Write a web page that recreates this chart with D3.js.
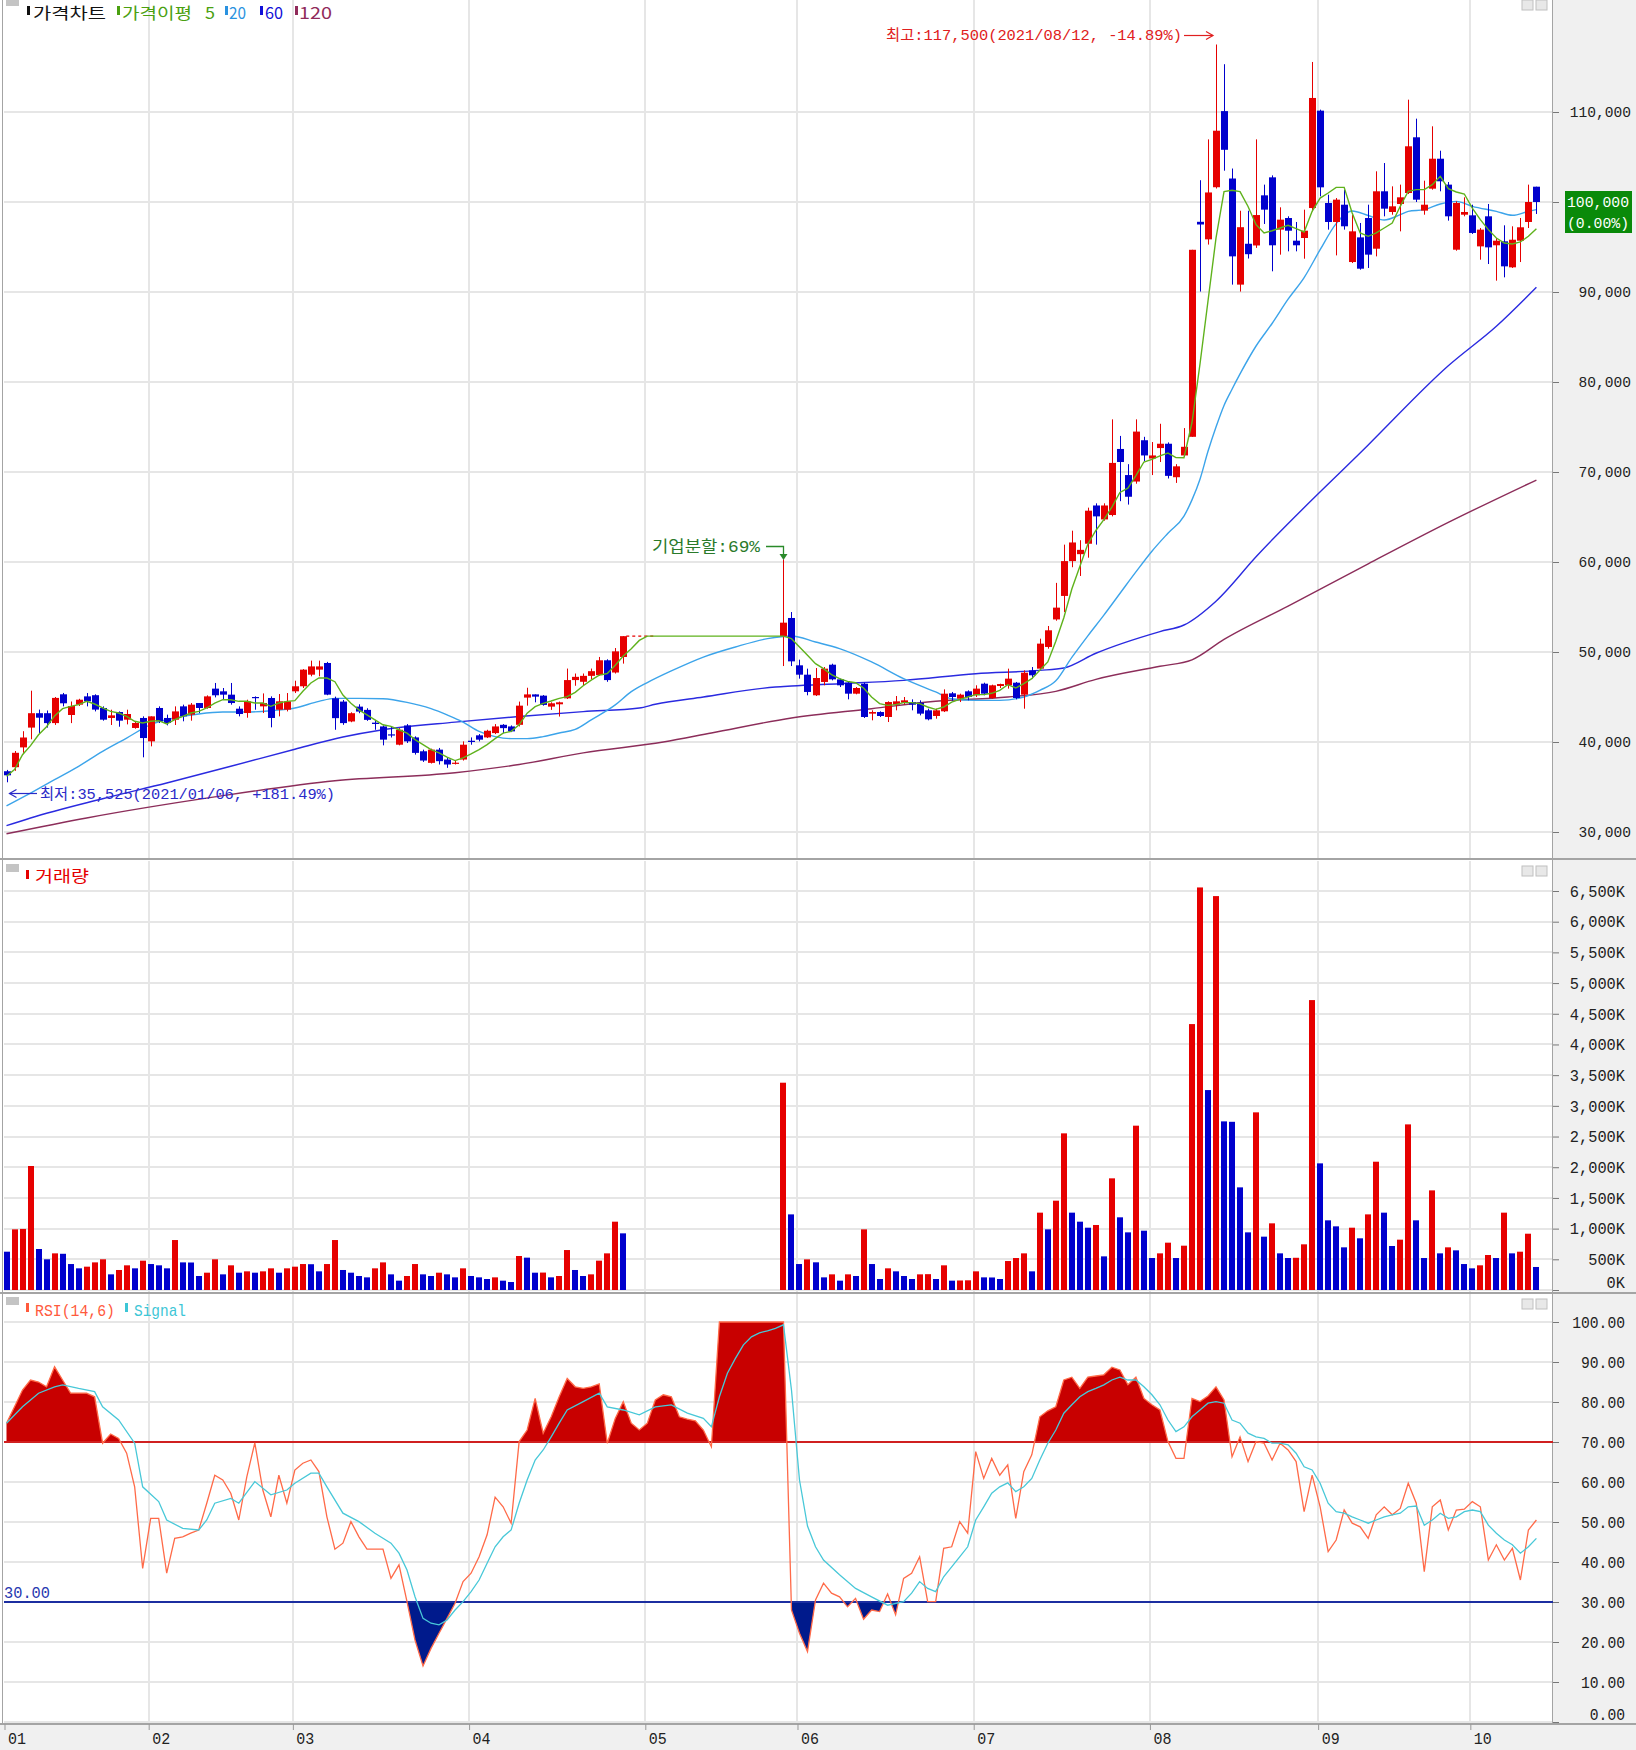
<!DOCTYPE html>
<html>
<head>
<meta charset="utf-8">
<script src="https://cdn.jsdelivr.net/npm/d3@7/dist/d3.min.js"></script>
<style>html,body{margin:0;padding:0;background:#fff;}svg{display:block;}</style>
</head>
<body>
<svg id="chart" width="1636" height="1750"></svg>
<script>
// ================= DATA =================
const monthLabels = ["01","02","03","04","05","06","07","08","09","10"];
const monthStartSlots = [0,18,36,58,80,99,121,143,164,183];
const priceTicks = [30000,40000,50000,60000,70000,80000,90000,100000,110000];
const volumeTicks = [0,500,1000,1500,2000,2500,3000,3500,4000,4500,5000,5500,6000,6500];
const rsiTicks = [0,10,20,30,40,50,60,70,80,90,100];
const HALT = [null,null,null,null,null,null,null,null,null,null,null,null,null,null,null,null,null,null,null];

const openPre = [36750,37200,39400,41600,43200,43200,42100,45300,43000,44150,
45070,45200,43780,42670,43330,42480,41560,42670,40070,43780,
42670,42480,43960,43040,44330,43780,45930,45630,45260,43700,
43220,45000,43960,44890,43590,43590,45630,46190,47480,48040,
48780,44850,44490,42280,43930,43570,42150,41730,40850,39700,
41840,40510,38970,37680,39150,38050,37600,38050,40140,40740,
40510,40990,41910,41730,41910,44930,45290,45150,43930,44190,
44850,46880,46690,47350,47430,49080,47720,49450];
const openPost = [51780,53780,48520,47480,45190,46670,48590,46960,46590,45370,
46480,43150,43330,42780,44150,44370,44440,44370,43520,42890,
43410,45410,44810,45630,45190,46480,44890,46220,46300,46590,
45260,47960,48150,50560,53620,56230,60100,60870,62030,66280,
64730,65220,72560,69660,68940,73530,71500,72660,73140,69420,
71840,73910,97800,95850,101640,110100,102610,90820,95360,95170,
100740,102740,96930,98220,95700,96000,99330,110150,99890,97780,
99700,93330,96070,98220,94810,101190,98890,99780,101000,107190,
99040,101480,104810,101930,94700,98590,98520,95070,98410,95190,
95630,92740,95700,97780,101700];

const highPre = [36900,39000,41200,45700,43600,43500,45000,45450,44500,44800,
45440,45300,43960,43590,43400,43590,42300,42850,42850,43960,
43040,43960,44150,44330,44330,45180,46560,46000,46560,43960,
44700,45070,45400,45070,45330,45440,46810,48100,49040,49040,
48900,45040,44670,43300,44190,43750,42460,41840,41730,41540,
41990,40630,39150,39260,39340,38310,37940,40070,40510,40880,
41360,41990,41990,41840,44490,46030,45290,45220,44410,44490,
48160,47610,47610,48160,49450,49190,50440,51760];
const highPost = [60300,54440,49150,48150,48220,48330,48700,47040,46740,46110,
46590,43520,43410,44520,45110,45000,44740,44630,43700,43700,
45850,45560,45370,45740,46300,46590,46370,46480,48150,46670,
47960,48330,51480,52890,57680,61930,63480,62420,66040,66520,
66520,75850,74010,70870,75850,73910,73330,75360,73290,70870,
74880,94690,102420,106960,117500,115310,103720,99030,99030,106960,
101930,102960,99410,98410,97780,99150,115560,110260,100810,100440,
101370,98590,97670,99700,103410,104330,101740,101930,111370,109260,
102370,108410,105700,102220,100070,100520,99700,97110,99780,96000,
97410,97300,98220,101930,101700];

const lowPre = [35525,36800,38800,40300,41000,41600,41900,43960,42100,44000,
43960,43400,42370,41890,41700,41960,41480,38300,39520,42110,
41850,41890,42300,42370,43220,43700,44960,44700,44150,42850,
42700,43590,43220,41630,42850,43400,45440,46000,47300,47300,
45200,41360,41910,42200,43200,42350,41360,39630,40500,39630,
39890,38600,37790,37610,37500,37130,37500,37940,39700,40070,
40440,40880,40990,41100,41730,44040,44410,44040,43570,42830,
44780,46250,46320,46990,47350,46690,47610,48710];
const lowPost = [48440,48440,47040,45190,45110,46300,46850,46110,44740,45300,
42670,42410,42780,42220,43520,44150,43520,42960,42410,42590,
43330,44590,44440,44630,45000,45190,44810,46000,45930,44740,
43700,47040,48070,50370,53480,54440,59420,58450,60480,61930,
64590,65070,66760,66380,68700,71210,69660,71110,69280,68790,
71690,73910,90050,95270,101500,103480,90820,90050,93720,94900,
97560,92300,94150,94520,94520,93700,98960,100630,96930,94070,
96930,93220,92480,92670,93960,98410,98590,96740,100890,100000,
98590,101370,101190,97930,94590,98410,96450,93590,93110,91260,
91630,92670,93330,97110,98670];

const closePre = [36300,38800,40500,43200,42700,42100,44900,44300,44000,44700,
44520,43600,42480,42960,42370,43110,42110,40440,42850,42300,
42110,43400,42850,44150,43780,45070,45190,45260,44330,43110,
44520,44950,44330,42670,44520,44520,46190,48040,48400,48400,
45260,42650,42100,43200,43380,42460,42000,40260,40800,41360,
40070,38790,37940,39150,37870,37500,37700,39700,40000,40260,
41250,41730,41540,41180,44040,45290,45040,44120,44300,44410,
46880,47240,47350,47870,49080,46880,50070,51760];
const closePost = [53260,48960,47480,45560,47110,48150,46960,46300,45370,46000,
42780,43330,42890,44440,44520,44630,44150,43150,42520,43520,
45370,45000,45260,45000,45930,45370,46300,46440,47040,44890,
47700,47410,50930,52410,54930,60100,62170,61350,65700,65070,
66280,71010,71110,67250,74490,71840,71840,73140,69570,70630,
72800,94690,97500,101060,107920,105800,93960,97200,94200,98550,
99150,95190,98040,96810,95190,96810,111560,101630,97780,100260,
97300,96740,92590,94150,101190,99260,99520,100520,106190,100260,
99700,104810,102300,98410,99890,98890,96560,96930,94960,95700,
92850,95810,97190,100000,100000];

// volume in thousands of shares
const volumePre = [624,988,995,2020,668,500,597,590,423,353,
380,450,500,255,326,402,353,478,423,402,
353,814,450,448,228,282,500,255,402,282,
304,282,304,353,282,353,380,423,420,304,
423,814,326,282,228,206,353,450,255,152,
228,423,255,228,282,255,206,353,228,206,
179,206,152,130,554,527,282,284,206,228,
651,326,228,255,478,597,1113,923];
const volumePost = [3377,1232,423,499,451,206,255,152,255,228,
988,423,179,353,304,228,179,255,258,179,
402,152,155,158,304,206,204,179,472,521,
597,304,1260,988,1455,2552,1260,1113,1015,1059,
548,1819,1184,939,2677,966,521,597,771,521,
722,4332,6558,3257,6417,2747,2740,1672,939,2894,
869,1086,597,521,525,744,4723,2063,1135,1037,
695,1015,842,1232,2090,1260,717,820,2698,1135,
521,1623,597,695,646,423,353,402,570,521,
1260,597,624,917,375];

const openPrices = [...openPre, ...HALT, ...openPost];
const highPrices = [...highPre, ...HALT, ...highPost];
const lowPrices = [...lowPre, ...HALT, ...lowPost];
const closePrices = [...closePre, ...HALT, ...closePost];
const volumes = [...volumePre, ...HALT, ...volumePost];

const ma5Values = [36190,36930,38590,39600,40800,41700,42900,43700,43960,44150,
44520,44220,43780,43410,43220,42850,42300,42110,42300,42370,
42000,42480,42850,43220,43410,43780,44330,44700,44700,44520,
44520,44330,44330,43960,44330,44520,44590,45630,46560,47110,
47110,46700,45220,44300,43570,43010,42460,41910,41730,41360,
40990,40260,39710,39150,38790,38310,37940,38240,38680,39150,
39710,40370,40990,41180,41910,43200,43930,44300,44560,44850,
45040,45510,46250,46880,47430,47610,48530,49560,50370,51290,
51760,51760,51760,51760,51760,51760,51760,51760,51760,51760,
51760,51760,51760,51760,51760,51760,51760,51760,51480,50560,
49630,48700,48150,47480,47040,46740,46590,46000,45000,44260,
44070,44150,44370,44370,44260,43890,43630,43890,44440,44740,
45000,45260,45260,45410,45740,46370,46000,46480,47040,47960,
48900,51200,53800,57000,59500,62000,63500,64700,66100,67730,
68210,69600,71110,71400,71800,72100,71600,71590,75500,82000,
89000,96000,101160,101300,101160,99500,97480,96560,96810,97110,
97410,97040,96670,98960,100440,101000,101630,101630,98780,96560,
96190,96560,97110,97670,99520,101190,101370,101370,101930,102850,
101480,101110,100890,99330,98040,96930,96000,95440,95330,95560,
96190,97040];

const ma20Points = [[0,32890],[3,34330],[6,35810],[9,37300],[12,38960],[15,40440],[18,41930],[21,42670],[24,43110],[27,43330],[30,43330],[33,43480],[36,43780],[39,44520],[41,44850],[44,44850],[47,44800],[50,44400],[53,43700],[55,43010],[57,42210],[59,41180],[61,40600],[63,40370],[65,40370],[67,40600],[69,41000],[71,41400],[73,42460],[76,44120],[78,45590],[80,46600],[83,47900],[87,49440],[91,50560],[95,51480],[98,51780],[101,51110],[104,50370],[108,48890],[112,47040],[116,45560],[118,44810],[121,44630],[124,44630],[127,45000],[129,45740],[131,46800],[133,49400],[135,51800],[137,54100],[139,56500],[141,58900],[143,61200],[145,63200],[147,65100],[148,66900],[149,69200],[150,72300],[151,75000],[152,77400],[153,79200],[154,80900],[156,84000],[158,86500],[160,89200],[162,91600],[164,94700],[166,97600],[168,99000],[170,98500],[172,98000],[174,98590],[175,98960],[177,99150],[179,99780],[181,100070],[183,99520],[186,98960],[188,98520],[190,98960],[191,99150]];

const ma60Points = [[0,30700],[3,31560],[12,33700],[20,35450],[28,37300],[36,39200],[42,40550],[47,41360],[56,42210],[64,42830],[72,43380],[79,43780],[81,44190],[87,45000],[96,46110],[98,46220],[104,46480],[112,46850],[121,47590],[129,47960],[132,48220],[136,49860],[144,52270],[147,53000],[151,55650],[156,60580],[170,73000],[180,81800],[186,86190],[191,90520]];

const ma120Points = [[0,29800],[10,31560],[26,33900],[41,35700],[56,36580],[64,37500],[72,38790],[82,40000],[88,41000],[98,42670],[108,43700],[116,44520],[125,45000],[131,45630],[136,46960],[144,48410],[148,49130],[152,51400],[160,55100],[170,59800],[180,64400],[191,69110]];

const rsiValues = [74.7,78.8,83,85.5,85,83.8,88.8,85.5,82.2,82.2,
82.2,81.3,69.7,72,70.9,67.2,58.8,38.4,50.9,50.9,
37.2,45.9,46.3,47.2,48,54.7,61.7,60.5,57.2,50.5,
61.3,69.8,58,51.3,61.7,54.7,63,64.7,65.5,62.6,
51.3,43.2,44.7,50.1,46.3,43.2,43.2,43.2,35.9,39.3,
30.1,20.5,14,18.4,22.2,25.9,29.7,35.1,37.2,41.3,
46.8,56.2,53.8,49.7,70.1,73,80.9,72.2,76.3,81.3,
85.9,83.8,83.4,83.8,84.5,69.7,75.9,80.1,74.7,73,
74.7,80.5,81.8,81.3,76.3,75.7,75.3,73,68.8,100,
100,100,100,100,100,100,100,100,28,22.2,
17.6,30.5,34.7,32.2,31.3,28.8,30.9,25.7,28,27.6,
32,26.8,35.9,37.2,41.3,30.1,30.1,43.4,43.8,50.1,
47.2,67.6,60.9,65.9,61.7,64.3,50.9,62.6,66.8,76.3,
77.8,78.8,85.5,86.2,83.4,86.2,86.5,86.8,88.7,88,
84.3,86.2,80.9,79.3,78,70.1,65.9,65.9,80.9,80.1,
81.5,83.8,80.5,66.3,71.3,65.1,70.1,69.7,65.5,69.7,
68,65.1,52.6,61.7,53.8,42.6,45.5,53,49.7,48.8,
45.9,51.8,53.8,51.8,53.4,59.7,54.7,37.6,53.8,55.5,
48,53,53.2,55.1,53.8,40.5,44.3,40.5,43.4,35.5,
48,50.5];

const signalPoints = [[0,74.7],[2,78.8],[4,82.2],[6,83.8],[7,84.3],[9,83.4],[11,82.6],[12,78.8],[14,75.5],[16,69.7],[17,58.8],[19,55.1],[20,50.5],[22,48.4],[24,48],[25,50.5],[26,54.7],[28,55.9],[29,54.7],[31,60.1],[33,56.8],[35,58],[36,59.7],[38,62.2],[39,62.2],[40,58.8],[42,52.2],[44,50.1],[46,47.2],[48,44.7],[49,42.2],[50,38],[51,31.3],[52,25.9],[53,24.7],[54,24.3],[55,25.5],[56,28],[57,30.1],[58,32.6],[59,35.5],[60,39.7],[61,43.8],[62,46.3],[63,48],[64,54.7],[65,60.5],[66,65.5],[67,68],[68,71.3],[69,74.7],[70,78],[72,80.1],[74,82.2],[75,78.8],[77,78],[79,76.8],[81,78.8],[83,79.3],[85,77.2],[87,75.9],[88,73.8],[89,81.3],[90,87.2],[91,90.9],[92,94.3],[93,96.3],[94,97.3],[95,97.8],[96,98.4],[97,99.3],[98,83],[99,60.5],[100,49],[101,43.8],[102,40.5],[104,36.8],[106,33.4],[108,31.3],[110,29.2],[112,30.1],[113,32.2],[114,35.1],[115,33.4],[116,32.6],[117,36.3],[118,38.8],[119,41.3],[120,43.8],[121,50.5],[122,53.8],[123,57.2],[124,58.8],[125,59.8],[126,57.6],[127,58.8],[128,60.9],[129,65.5],[130,69.7],[131,73],[132,77.2],[133,79.3],[134,81.3],[135,82.6],[136,83.4],[137,84.3],[138,85.5],[139,86.2],[140,85.5],[141,85.5],[142,83.8],[143,81.8],[144,79.3],[145,75.5],[146,72.6],[147,73.8],[148,76.3],[149,78],[150,79.7],[151,80.1],[152,79.7],[153,75.5],[154,74.7],[155,72.2],[156,71.3],[157,70.9],[158,69.7],[159,69.7],[160,69.3],[161,67.2],[162,63.8],[163,63],[164,59.7],[165,54.7],[166,52.6],[167,52.2],[168,51.3],[169,50.5],[170,49.7],[171,50.5],[172,51.3],[173,51.8],[174,52.2],[175,53.8],[176,54],[177,49.2],[178,50.5],[179,52.2],[180,50.9],[181,51.3],[182,52.6],[183,53],[184,52.6],[185,49.2],[186,47.2],[187,45.5],[188,44.3],[189,42.2],[190,43.8],[191,45.9]];

const rsiUpper = 70, rsiLower = 30;
const lastPrice = 100000;

// ================= DRAWING =================
const W = 1636, H = 1750, L = 4, R = 1553;
const P_TOP = 0, P_BOT = 858, V_TOP = 861, V_BOT = 1292, S_TOP = 1294, S_BOT = 1723;
const RED = "#e60000", BLUE = "#0000cd";
const MONO = "'Liberation Mono','DejaVu Sans Mono',monospace";
const KR = "'Noto Sans CJK KR','Noto Sans',sans-serif";
const ANN = "'Liberation Mono','Noto Sans CJK KR',monospace";

const svg = d3.select("#chart");
const slotCount = closePrices.length;
const x = d3.scaleLinear().domain([0, slotCount - 1]).range([6.5, 6.5 + 8.01 * (slotCount - 1)]);
const yP = d3.scaleLinear().domain([30000, 110000]).range([832, 112]);
const yV = d3.scaleLinear().domain([0, 6500]).range([1290, 891]);
const yR = d3.scaleLinear().domain([0, 100]).range([1722, 1322]);

svg.append("rect").attr("width", W).attr("height", H).attr("fill", "#fff");
svg.append("rect").attr("x", R).attr("y", 0).attr("width", W - R).attr("height", H).attr("fill", "#f0f0f0");
svg.append("rect").attr("x", 0).attr("y", S_BOT).attr("width", W).attr("height", H - S_BOT).attr("fill", "#f0f0f0");

// grid
const grid = svg.append("g").attr("stroke", "#e6e6e6").attr("stroke-width", 2);
function hgrid(scale, ticks) {
  ticks.forEach(t => {
    const yy = Math.round(scale(t));
    grid.append("line").attr("x1", L).attr("x2", R).attr("y1", yy).attr("y2", yy);
  });
}
hgrid(yP, priceTicks);
hgrid(yV, volumeTicks);
hgrid(yR, rsiTicks);
monthStartSlots.slice(1).forEach(s => {
  const gx = Math.round(x(s) - 2);
  [[P_TOP, P_BOT], [V_TOP, V_BOT], [S_TOP, S_BOT]].forEach(([a, b]) =>
    grid.append("line").attr("x1", gx).attr("x2", gx).attr("y1", a).attr("y2", b));
});

// panel borders
const border = svg.append("g").attr("fill", "#a4a4a4");
border.append("rect").attr("x", 0).attr("y", P_BOT).attr("width", W).attr("height", 2);
border.append("rect").attr("x", 0).attr("y", V_BOT).attr("width", W).attr("height", 2);
border.append("rect").attr("x", 0).attr("y", S_BOT).attr("width", W).attr("height", 2);
border.append("rect").attr("x", 2).attr("y", 0).attr("width", 1).attr("height", S_BOT);
border.append("rect").attr("x", R - 1).attr("y", 0).attr("width", 1).attr("height", S_BOT);

const traded = d3.range(slotCount).filter(i => openPrices[i] !== null);

// ---- moving averages
const maLine = d3.line().x(d => x(d[0])).y(d => yP(d[1]));
const maSmooth = d3.line().x(d => x(d[0])).y(d => yP(d[1])).curve(d3.curveMonotoneX);
svg.append("path").attr("d", maSmooth(ma120Points)).attr("fill", "none").attr("stroke", "#8c2d5a").attr("stroke-width", 1.4);
svg.append("path").attr("d", maSmooth(ma60Points)).attr("fill", "none").attr("stroke", "#2a2ae0").attr("stroke-width", 1.4);
svg.append("path").attr("d", maSmooth(ma20Points)).attr("fill", "none").attr("stroke", "#3ca4ea").attr("stroke-width", 1.4);

// halt dashed line (last close carried)
svg.append("line").attr("x1", x(77) + 3).attr("x2", x(81)).attr("y1", yP(closePrices[77])).attr("y2", yP(closePrices[77]))
  .attr("stroke", RED).attr("stroke-width", 1.3).attr("stroke-dasharray", "3,3");

// ---- candles
const cg = svg.append("g");
traded.forEach(i => {
  const o = openPrices[i], c = closePrices[i], h = highPrices[i], l = lowPrices[i];
  const col = c >= o ? RED : BLUE;
  const cx = Math.round(x(i));
  cg.append("rect").attr("x", cx).attr("y", yP(h)).attr("width", 1).attr("height", Math.max(1, yP(l) - yP(h))).attr("fill", col);
  const yt = yP(Math.max(o, c)), yb = yP(Math.min(o, c));
  cg.append("rect").attr("x", cx - 3).attr("y", yt).attr("width", 7).attr("height", Math.max(1.2, yb - yt)).attr("fill", col);
});

svg.append("path").attr("d", maLine(ma5Values.map((v, i) => [i, v]))).attr("fill", "none").attr("stroke", "#5fb21c").attr("stroke-width", 1.4);

// ---- volume
const vg = svg.append("g");
let prevVol = null;
traded.forEach(i => {
  const v = volumes[i];
  const col = (prevVol !== null && v > prevVol) ? RED : BLUE;
  prevVol = v;
  const cx = Math.round(x(i));
  vg.append("rect").attr("x", cx - 3).attr("y", yV(v)).attr("width", 6).attr("height", yV(0) - yV(v)).attr("fill", col);
});

// ---- RSI
const rsiPts = rsiValues.map((v, i) => [i, v]);
const defs = svg.append("defs");
defs.append("clipPath").attr("id", "clipUp").append("rect").attr("x", L).attr("y", S_TOP).attr("width", R - L).attr("height", yR(rsiUpper) - S_TOP);
defs.append("clipPath").attr("id", "clipDn").append("rect").attr("x", L).attr("y", yR(rsiLower)).attr("width", R - L).attr("height", S_BOT - yR(rsiLower));
svg.append("path").attr("d", d3.area().x(d => x(d[0])).y0(yR(rsiUpper)).y1(d => yR(d[1]))(rsiPts))
  .attr("clip-path", "url(#clipUp)").attr("fill", "#c80000");
svg.append("path").attr("d", d3.area().x(d => x(d[0])).y0(yR(rsiLower)).y1(d => yR(d[1]))(rsiPts))
  .attr("clip-path", "url(#clipDn)").attr("fill", "#001a8c");
svg.append("line").attr("x1", L).attr("x2", R).attr("y1", yR(rsiUpper)).attr("y2", yR(rsiUpper)).attr("stroke", "#d02020").attr("stroke-width", 2);
svg.append("line").attr("x1", L).attr("x2", R).attr("y1", yR(rsiLower)).attr("y2", yR(rsiLower)).attr("stroke", "#1c2ea0").attr("stroke-width", 2);
const rLine = d3.line().x(d => x(d[0])).y(d => yR(d[1]));
svg.append("path").attr("d", rLine(rsiPts)).attr("fill", "none").attr("stroke", "#ff6a48").attr("stroke-width", 1.3);
svg.append("path").attr("d", rLine(signalPoints)).attr("fill", "none").attr("stroke", "#48c8d8").attr("stroke-width", 1.3);
svg.append("text").attr("x", 4).attr("y", 1598).text("30.00").attr("font-family", MONO).attr("font-size", 17)
  .attr("textLength", 46).attr("lengthAdjust", "spacingAndGlyphs").attr("fill", "#2838b0");

// ---- axes
function styleAxis(g, rightX, fs, cw, zeroShift) {
  g.select(".domain").remove();
  g.selectAll(".tick line").attr("stroke", "#777");
  g.selectAll(".tick text").attr("x", rightX - R).attr("text-anchor", "end")
    .attr("font-family", MONO).attr("font-size", fs).attr("fill", "#222")
    .attr("lengthAdjust", "spacingAndGlyphs")
    .each(function (d) { d3.select(this).attr("textLength", this.textContent.length * cw); })
    .attr("y", d => (d === 0 && zeroShift) ? -8 : 0);
}
const pa = svg.append("g").attr("transform", `translate(${R},0)`)
  .call(d3.axisRight(yP).tickValues(priceTicks).tickSize(6).tickFormat(d3.format(",")));
styleAxis(pa, 1631, 15, 8.75, false);
const va = svg.append("g").attr("transform", `translate(${R},0)`)
  .call(d3.axisRight(yV).tickValues(volumeTicks).tickSize(6).tickFormat(d => d3.format(",")(d) + "K"));
styleAxis(va, 1625, 16.5, 9.2, true);
const ra = svg.append("g").attr("transform", `translate(${R},0)`)
  .call(d3.axisRight(yR).tickValues(rsiTicks).tickSize(6).tickFormat(d3.format(".2f")));
styleAxis(ra, 1625, 16.5, 8.8, true);

const xa = svg.append("g").attr("transform", `translate(-2,${S_BOT + 1})`)
  .call(d3.axisBottom(x).tickValues(monthStartSlots).tickSize(6).tickFormat((d, i) => monthLabels[i]));
xa.select(".domain").remove();
xa.selectAll(".tick line").attr("stroke", "#999");
xa.selectAll(".tick text").attr("x", 3).attr("y", 20).attr("dy", null).attr("text-anchor", "start")
  .attr("font-family", MONO).attr("font-size", 17).attr("fill", "#222")
  .attr("textLength", 18).attr("lengthAdjust", "spacingAndGlyphs");

// current price box
svg.append("rect").attr("x", 1565).attr("y", 191).attr("width", 67).attr("height", 42).attr("fill", "#0a8a0a");
svg.append("text").attr("x", 1567).attr("y", 207).text(d3.format(",")(lastPrice)).attr("font-family", MONO).attr("font-size", 15)
  .attr("fill", "#fff").attr("textLength", 62).attr("lengthAdjust", "spacingAndGlyphs");
svg.append("text").attr("x", 1567).attr("y", 228).text("(0.00%)").attr("font-family", MONO).attr("font-size", 15)
  .attr("fill", "#fff").attr("textLength", 62).attr("lengthAdjust", "spacingAndGlyphs");

// ---- headers
function marker(xx, yy, col) { svg.append("rect").attr("x", xx).attr("y", yy).attr("width", 3).attr("height", 9).attr("fill", col); }
function label(xx, yy, txt, col, len, fam, fs) {
  svg.append("text").attr("x", xx).attr("y", yy).text(txt).attr("fill", col).attr("font-family", fam || KR)
    .attr("font-size", fs || 16).attr("textLength", len).attr("lengthAdjust", "spacingAndGlyphs");
}
function cornerBox(yy) {
  svg.append("rect").attr("x", 6).attr("y", yy).attr("width", 13).attr("height", 8).attr("fill", "#c4c4c4");
  [1522, 1536].forEach(bx => svg.append("rect").attr("x", bx).attr("y", yy + 2).attr("width", 11).attr("height", 10)
    .attr("fill", "#e8e8e8").attr("stroke", "#c0c0c0").attr("stroke-width", 1));
}
cornerBox(-2); cornerBox(864); cornerBox(1297);

marker(27, 6, "#111"); label(33, 19, "가격차트", "#111", 73);
marker(117, 6, "#4aa010"); label(122, 19, "가격이평", "#4aa010", 70); label(205, 19, "5", "#4aa010", 10);
marker(225, 6, "#2a92e0"); label(229, 19, "20", "#2a92e0", 17);
marker(260, 6, "#1010d8"); label(265, 19, "60", "#1010d8", 18);
marker(295, 6, "#902a5a"); label(299, 19, "120", "#902a5a", 33);

marker(26, 870, RED); label(35, 882, "거래량", RED, 54);

marker(26, 1303, "#ff5a3c"); label(35, 1316, "RSI(14,6)", "#ff5a3c", 80, MONO, 17);
marker(125, 1303, "#3cc6d6"); label(134, 1316, "Signal", "#3cc6d6", 52, MONO, 17);

// ---- annotations
const hiIdx = highPrices.indexOf(d3.max(highPrices));
const loIdx = lowPrices.indexOf(d3.min(lowPrices.filter(v => v !== null)));
svg.append("text").attr("x", 886).attr("y", 40).text("최고:117,500(2021/08/12, -14.89%)")
  .attr("font-family", ANN).attr("font-size", 15).attr("fill", "#e02020").attr("textLength", 296).attr("lengthAdjust", "spacingAndGlyphs");
const hx = x(hiIdx) - 3;
svg.append("line").attr("x1", 1184).attr("x2", hx).attr("y1", 35.5).attr("y2", 35.5).attr("stroke", "#e02020").attr("stroke-width", 1.2);
svg.append("polyline").attr("points", `${hx - 7},31.5 ${hx},35.5 ${hx - 7},39.5`).attr("fill", "none").attr("stroke", "#e02020").attr("stroke-width", 1.2);

svg.append("text").attr("x", 40).attr("y", 799).text("최저:35,525(2021/01/06, +181.49%)")
  .attr("font-family", ANN).attr("font-size", 15).attr("fill", "#2a2ac8").attr("textLength", 295).attr("lengthAdjust", "spacingAndGlyphs");
const lx = x(loIdx) + 3;
svg.append("line").attr("x1", lx).attr("x2", 37).attr("y1", 793.5).attr("y2", 793.5).attr("stroke", "#2a2ac8").attr("stroke-width", 1.2);
svg.append("polyline").attr("points", `${lx + 7},789.5 ${lx},793.5 ${lx + 7},797.5`).attr("fill", "none").attr("stroke", "#2a2ac8").attr("stroke-width", 1.2);

const splitX = Math.round(x(97)) + 0.5;
svg.append("text").attr("x", 652).attr("y", 552).text("기업분할:69%")
  .attr("font-family", ANN).attr("font-size", 16).attr("fill", "#2a7a2a").attr("textLength", 108).attr("lengthAdjust", "spacingAndGlyphs");
svg.append("polyline").attr("points", `766,546.5 ${splitX},546.5 ${splitX},556`).attr("fill", "none").attr("stroke", "#2a8a2a").attr("stroke-width", 1.3);
svg.append("polygon").attr("points", `${splitX - 4},554 ${splitX + 4},554 ${splitX},560`).attr("fill", "#2a8a2a");
</script>
</body>
</html>
